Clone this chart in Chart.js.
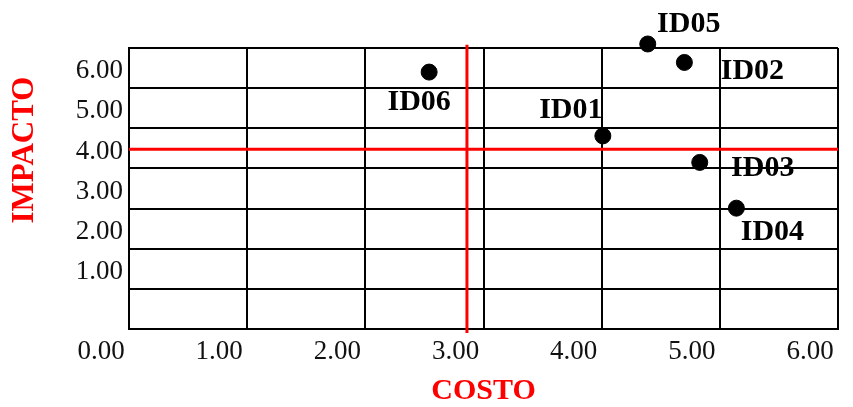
<!DOCTYPE html>
<html>
<head>
<meta charset="utf-8">
<script src="https://cdn.jsdelivr.net/npm/chart.js@4.4.1/dist/chart.umd.min.js"></script>
<style>
  html, body { margin: 0; padding: 0; background: #fff; }
  #wrap { width: 853px; height: 407px; }
</style>
</head>
<body>
<div id="wrap"><canvas id="matriz"></canvas></div>
<script>
// datos de la matriz costo / impacto
const ids = ['ID01', 'ID02', 'ID03', 'ID04', 'ID05', 'ID06'];
const costo = [4.26, 4.95, 5.08, 5.39, 4.64, 2.79];
const impacto = [4.31, 6.14, 3.65, 2.51, 6.60, 5.90];

// lineas rojas de corte
const corteCosto = 3.11;
const corteImpacto = 3.98;
const spanVertical = [-0.6, 6.58];

// marcas de los ejes
const xTicks = [0, 1, 2, 3, 4, 5, 6];
const yTicks = [1, 2, 3, 4, 5, 6];

// rango visible (la cuadricula no coincide con las etiquetas)
const xMin = 0.25, xMax = 6.25;
const yMin = -0.5, yMax = 6.5;

// desplazamiento de cada etiqueta respecto a su punto (px)
const labelShift = [[-32, -26], [68, 9], [63, 6], [36, 24], [41, -20], [-10, 30]];

const serif = '"Liberation Serif", "Times New Roman", serif';

const etiquetas = {
  id: 'etiquetas',
  afterDatasetsDraw(chart) {
    const ctx = chart.ctx;
    const meta = chart.getDatasetMeta(0);
    ctx.save();
    ctx.font = 'bold 30px ' + serif;
    ctx.fillStyle = '#000';
    ctx.textAlign = 'center';
    ctx.textBaseline = 'middle';
    meta.data.forEach((pt, i) => {
      ctx.fillText(ids[i], pt.x + labelShift[i][0], pt.y + labelShift[i][1]);
    });
    // titulos de los ejes
    ctx.fillStyle = '#ff0000';
    ctx.font = 'bold 30px ' + serif;
    ctx.fillText('COSTO', (chart.chartArea.left + chart.chartArea.right) / 2, 391);
    ctx.translate(25, 150);
    ctx.rotate(-Math.PI / 2);
    ctx.font = 'bold 31px ' + serif;
    ctx.fillText('IMPACTO', 0, 0);
    ctx.restore();
  }
};

new Chart(document.getElementById('matriz'), {
  type: 'scatter',
  data: {
    datasets: [
      {
        data: costo.map((c, i) => ({ x: c, y: impacto[i] })),
        backgroundColor: '#000',
        borderColor: '#000',
        pointRadius: 8,
        pointHoverRadius: 8,
        clip: false
      },
      {
        data: [{ x: xMin, y: corteImpacto }, { x: xMax, y: corteImpacto }],
        showLine: true,
        borderColor: '#ff0000',
        borderWidth: 3,
        pointRadius: 0,
        clip: false
      },
      {
        data: [{ x: corteCosto, y: spanVertical[0] }, { x: corteCosto, y: spanVertical[1] }],
        showLine: true,
        borderColor: '#ff0000',
        borderWidth: 3,
        pointRadius: 0,
        clip: false
      }
    ]
  },
  options: {
    responsive: true,
    maintainAspectRatio: false,
    animation: false,
    layout: { padding: { top: 48, right: 15, left: 0, bottom: 0 } },
    plugins: { legend: { display: false }, tooltip: { enabled: false } },
    scales: {
      x: {
        type: 'linear',
        min: xMin,
        max: xMax,
        afterBuildTicks: (axis) => { axis.ticks = xTicks.map(v => ({ value: v + xMin })); },
        afterFit: (axis) => {
          axis.height = 78;
          axis.paddingLeft = 0;
          axis.paddingRight = 0;
        },
        grid: { color: '#000', lineWidth: 2, drawTicks: false },
        border: { color: '#000', width: 2 },
        ticks: {
          autoSkip: false,
          maxRotation: 0,
          padding: 7,
          labelOffset: -28,
          color: '#111',
          font: { family: serif, size: 27 },
          callback: (v) => (v - xMin).toFixed(2)
        }
      },
      y: {
        type: 'linear',
        min: yMin,
        max: yMax,
        afterBuildTicks: (axis) => {
          const t = [];
          for (let v = yMin; v <= yMax + 0.001; v += 1) t.push({ value: v });
          axis.ticks = t;
        },
        afterFit: (axis) => {
          axis.width = 129;
          axis.paddingTop = 0;
          axis.paddingBottom = 0;
        },
        grid: { color: '#000', lineWidth: 2, drawTicks: false },
        border: { color: '#000', width: 2 },
        ticks: {
          autoSkip: false,
          padding: 6,
          labelOffset: -17,
          color: '#111',
          font: { family: serif, size: 27 },
          callback: (v) => {
            const n = Math.round(v + 0.5);
            return yTicks.includes(n) ? n.toFixed(2) : '';
          }
        }
      }
    }
  },
  plugins: [etiquetas]
});
</script>
</body>
</html>
